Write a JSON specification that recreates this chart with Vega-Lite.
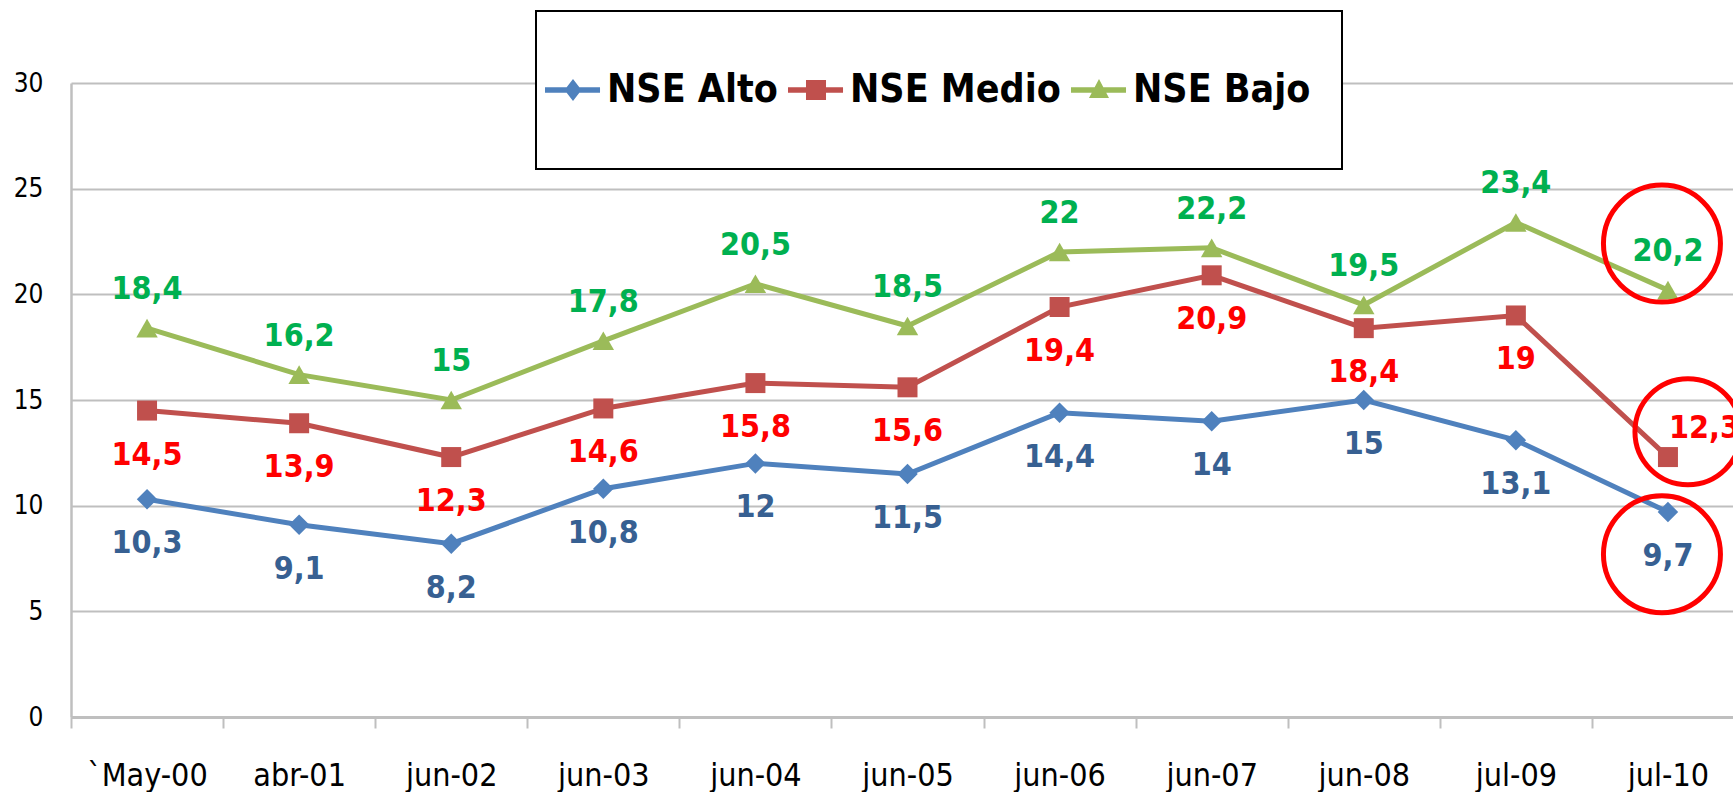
{
  "$schema": "https://vega.github.io/schema/vega-lite/v6.json",
  "width": 1662,
  "height": 634,
  "autosize": {"type": "none"},
  "padding": {"left": 71, "top": 83, "right": 0, "bottom": 75},
  "background": "white",
  "config": {"view": {"stroke": null}, "font": "DejaVu Sans Condensed"},
  "data": {
    "values": [
      {"fecha": "`May-00", "serie": "NSE Alto", "valor": 10.3},
      {"fecha": "abr-01", "serie": "NSE Alto", "valor": 9.1},
      {"fecha": "jun-02", "serie": "NSE Alto", "valor": 8.2},
      {"fecha": "jun-03", "serie": "NSE Alto", "valor": 10.8},
      {"fecha": "jun-04", "serie": "NSE Alto", "valor": 12},
      {"fecha": "jun-05", "serie": "NSE Alto", "valor": 11.5},
      {"fecha": "jun-06", "serie": "NSE Alto", "valor": 14.4},
      {"fecha": "jun-07", "serie": "NSE Alto", "valor": 14},
      {"fecha": "jun-08", "serie": "NSE Alto", "valor": 15},
      {"fecha": "jul-09", "serie": "NSE Alto", "valor": 13.1},
      {"fecha": "jul-10", "serie": "NSE Alto", "valor": 9.7},
      {"fecha": "`May-00", "serie": "NSE Medio", "valor": 14.5},
      {"fecha": "abr-01", "serie": "NSE Medio", "valor": 13.9},
      {"fecha": "jun-02", "serie": "NSE Medio", "valor": 12.3},
      {"fecha": "jun-03", "serie": "NSE Medio", "valor": 14.6},
      {"fecha": "jun-04", "serie": "NSE Medio", "valor": 15.8},
      {"fecha": "jun-05", "serie": "NSE Medio", "valor": 15.6},
      {"fecha": "jun-06", "serie": "NSE Medio", "valor": 19.4},
      {"fecha": "jun-07", "serie": "NSE Medio", "valor": 20.9},
      {"fecha": "jun-08", "serie": "NSE Medio", "valor": 18.4},
      {"fecha": "jul-09", "serie": "NSE Medio", "valor": 19},
      {"fecha": "jul-10", "serie": "NSE Medio", "valor": 12.3},
      {"fecha": "`May-00", "serie": "NSE Bajo", "valor": 18.4},
      {"fecha": "abr-01", "serie": "NSE Bajo", "valor": 16.2},
      {"fecha": "jun-02", "serie": "NSE Bajo", "valor": 15},
      {"fecha": "jun-03", "serie": "NSE Bajo", "valor": 17.8},
      {"fecha": "jun-04", "serie": "NSE Bajo", "valor": 20.5},
      {"fecha": "jun-05", "serie": "NSE Bajo", "valor": 18.5},
      {"fecha": "jun-06", "serie": "NSE Bajo", "valor": 22},
      {"fecha": "jun-07", "serie": "NSE Bajo", "valor": 22.2},
      {"fecha": "jun-08", "serie": "NSE Bajo", "valor": 19.5},
      {"fecha": "jul-09", "serie": "NSE Bajo", "valor": 23.4},
      {"fecha": "jul-10", "serie": "NSE Bajo", "valor": 20.2}
    ]
  },
  "encoding": {
    "x": {
      "field": "fecha",
      "type": "nominal",
      "sort": null,
      "scale": {
        "type": "band",
        "domain": ["`May-00", "abr-01", "jun-02", "jun-03", "jun-04", "jun-05", "jun-06", "jun-07", "jun-08", "jul-09", "jul-10"],
        "paddingInner": 0,
        "paddingOuter": 0,
        "range": [0, 1673]
      },
      "axis": {
        "title": null,
        "tickBand": "extent",
        "labelAngle": 0,
        "labelFont": "DejaVu Sans Condensed",
        "labelFontSize": 32,
        "labelColor": "#000000",
        "labelBaseline": "alphabetic",
        "labelPadding": 57,
        "labelOverlap": false,
        "tickSize": 11,
        "tickColor": "#BFBFBF",
        "tickWidth": 2,
        "domainColor": "#BFBFBF",
        "domainWidth": 3,
        "grid": false
      }
    },
    "y": {
      "field": "valor",
      "type": "quantitative",
      "scale": {"domain": [0, 30], "nice": false},
      "axis": {
        "title": null,
        "values": [0, 5, 10, 15, 20, 25, 30],
        "grid": true,
        "gridColor": "#BFBFBF",
        "gridWidth": 2,
        "ticks": false,
        "tickSize": 0,
        "domainColor": "#BFBFBF",
        "domainWidth": 2.5,
        "labelFont": "DejaVu Sans Condensed",
        "labelFontSize": 26,
        "labelColor": "#000000",
        "labelPadding": 28
      }
    }
  },
  "layer": [
    {
      "mark": {"type": "line", "strokeWidth": 5},
      "encoding": {
        "color": {
          "field": "serie",
          "type": "nominal",
          "scale": {"domain": ["NSE Alto", "NSE Medio", "NSE Bajo"], "range": ["#4F81BD", "#C0504D", "#9BBB59"]},
          "legend": {
            "title": null,
            "orient": "none",
            "legendX": 465,
            "legendY": -72,
            "direction": "horizontal",
            "padding": 9,
            "fillColor": "white",
            "strokeColor": "black",
            "symbolSize": 19600,
            "symbolStrokeWidth": 0,
            "labelOffset": -78,
            "columnPadding": 10,
            "labelFont": "DejaVu Sans Condensed",
            "labelFontWeight": "bold",
            "labelFontSize": 39,
            "labelColor": "#000000",
            "labelLimit": 400,
            "encode": {
              "legend": {"update": {"strokeWidth": {"value": 2}}},
              "symbols": {
                "update": {
                  "shape": {"signal": "datum.value === 'NSE Alto' ? 'M-1,-1M-1,1M-1,-0.041H-0.214V0.041H-1ZM-0.6,-0.157L-0.479,0L-0.6,0.157L-0.721,0Z' : datum.value === 'NSE Medio' ? 'M-1,-1M-1,1M-1,-0.041H-0.214V0.041H-1ZM-0.743,-0.143H-0.457V0.143H-0.743Z' : 'M-1,-1M-1,1M2.74,0M-1,-0.041H-0.214V0.041H-1ZM-0.6,-0.157L-0.457,0.114H-0.743Z'"},
                  "fill": {"signal": "datum.value === 'NSE Alto' ? '#4F81BD' : datum.value === 'NSE Medio' ? '#C0504D' : '#9BBB59'"},
                  "stroke": {"value": "transparent"},
                  "strokeWidth": {"value": 0},
                  "opacity": {"value": 1}
                }
              }
            }
          }
        }
      }
    },
    {
      "transform": [{"filter": "datum.serie === 'NSE Alto'"}],
      "mark": {"type": "point", "shape": "diamond", "filled": true, "size": 420, "opacity": 1, "color": "#4F81BD"}
    },
    {
      "transform": [{"filter": "datum.serie === 'NSE Medio'"}],
      "mark": {"type": "point", "shape": "square", "filled": true, "size": 400, "opacity": 1, "color": "#C0504D"}
    },
    {
      "transform": [{"filter": "datum.serie === 'NSE Bajo'"}],
      "mark": {"type": "point", "shape": "triangle-up", "filled": true, "size": 460, "opacity": 1, "color": "#9BBB59"}
    },
    {
      "transform": [
        {"filter": "datum.serie === 'NSE Bajo'"},
        {"calculate": "replace(toString(datum.valor), '.', ',')", "as": "etiqueta"}
      ],
      "mark": {"type": "text", "dy": -39, "font": "DejaVu Sans Condensed", "fontWeight": "bold", "fontSize": 32, "color": "#00B050"},
      "encoding": {"text": {"field": "etiqueta"}}
    },
    {
      "transform": [
        {"filter": "datum.serie === 'NSE Medio' && datum.fecha !== 'jul-10'"},
        {"calculate": "replace(toString(datum.valor), '.', ',')", "as": "etiqueta"}
      ],
      "mark": {"type": "text", "dy": 44, "font": "DejaVu Sans Condensed", "fontWeight": "bold", "fontSize": 32, "color": "#FF0000"},
      "encoding": {"text": {"field": "etiqueta"}}
    },
    {
      "transform": [
        {"filter": "datum.serie === 'NSE Medio' && datum.fecha === 'jul-10'"},
        {"calculate": "replace(toString(datum.valor), '.', ',')", "as": "etiqueta"}
      ],
      "mark": {"type": "text", "align": "left", "dx": 1, "dy": -29, "font": "DejaVu Sans Condensed", "fontWeight": "bold", "fontSize": 32, "color": "#FF0000"},
      "encoding": {"text": {"field": "etiqueta"}}
    },
    {
      "transform": [
        {"filter": "datum.serie === 'NSE Alto'"},
        {"calculate": "replace(toString(datum.valor), '.', ',')", "as": "etiqueta"}
      ],
      "mark": {"type": "text", "dy": 44, "font": "DejaVu Sans Condensed", "fontWeight": "bold", "fontSize": 32, "color": "#376092"},
      "encoding": {"text": {"field": "etiqueta"}}
    },
    {
      "data": {"values": [{"fecha": "jul-10", "valor": 22.4}, {"fecha": "jul-10", "valor": 7.7}]},
      "mark": {"type": "point", "shape": "circle", "filled": false, "stroke": "#FF0000", "strokeWidth": 5, "size": 13689, "xOffset": -6, "opacity": 1}
    },
    {
      "data": {"values": [{"fecha": "jul-10", "valor": 13.5}]},
      "mark": {"type": "point", "shape": "circle", "filled": false, "stroke": "#FF0000", "strokeWidth": 5, "size": 11236, "xOffset": 20, "opacity": 1}
    }
  ]
}
